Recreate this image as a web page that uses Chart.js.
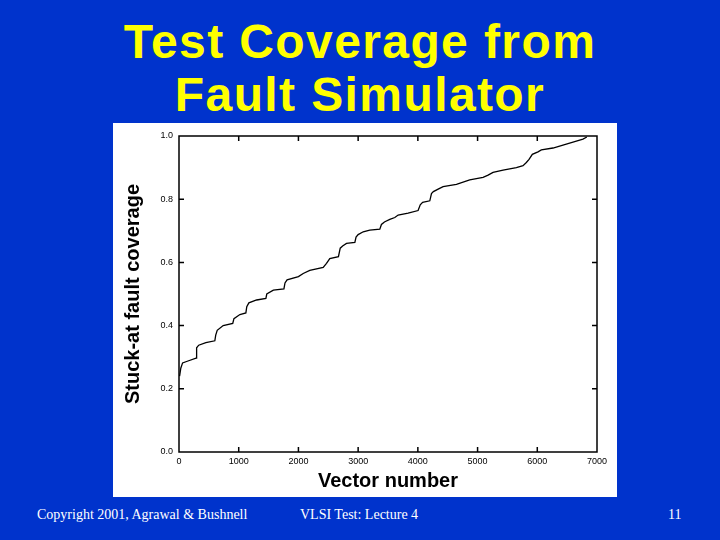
<!DOCTYPE html>
<html>
<head>
<meta charset="utf-8">
<script src="https://cdn.jsdelivr.net/npm/chart.js@4/dist/chart.umd.min.js"></script>
<style>
  html, body { margin: 0; padding: 0; }
  body { width: 720px; height: 540px; background: #0033cc; position: relative; overflow: hidden; }
  #title {
    position: absolute; left: 0; top: 15px; width: 720px; text-align: center;
    color: #ffff00; font: bold 48px "Liberation Sans", Arial, sans-serif;
    letter-spacing: 1.4px; line-height: 53px;
  }
  #panel { position: absolute; left: 113px; top: 123px; width: 504px; height: 374px; background: #fff; }
  .foot { position: absolute; top: 507px; color: #fff; font: 14px "Liberation Serif", "Times New Roman", serif; }
</style>
</head>
<body>
<div id="title">Test Coverage from<br>Fault Simulator</div>
<div id="panel"><canvas id="coverageChart" width="504" height="374"></canvas></div>
<div class="foot" style="left:37px">Copyright 2001, Agrawal &amp; Bushnell</div>
<div class="foot" style="left:300px">VLSI Test: Lecture 4</div>
<div class="foot" style="left:668px">11</div>

<script>
// vector number and cumulative fault coverage
const vectors = [10, 30, 60, 150, 285, 295, 330, 450, 600, 615, 640, 740, 900, 920, 1020, 1120, 1135, 1170,
  1300, 1455, 1470, 1580, 1757, 1775, 1810, 2000, 2080, 2190, 2415, 2470, 2525, 2670, 2700, 2740, 2805,
  2945, 2965, 3000, 3085, 3195, 3363, 3390, 3440, 3530, 3614, 3670, 3837, 4004, 4040, 4080, 4200, 4228,
  4260, 4340, 4423, 4646, 4869, 5092, 5176, 5259, 5427, 5650, 5761, 5817, 5862, 5917, 6012, 6068, 6263,
  6430, 6626, 6765, 6830];
const coverage = [0.240, 0.265, 0.282, 0.288, 0.297, 0.330, 0.338, 0.346, 0.352, 0.370, 0.385, 0.400, 0.407,
  0.422, 0.435, 0.440, 0.460, 0.472, 0.481, 0.486, 0.500, 0.512, 0.516, 0.535, 0.545, 0.555, 0.565, 0.575,
  0.584, 0.597, 0.612, 0.618, 0.645, 0.652, 0.660, 0.663, 0.680, 0.688, 0.697, 0.702, 0.705, 0.720, 0.728,
  0.736, 0.742, 0.750, 0.756, 0.764, 0.782, 0.790, 0.795, 0.818, 0.824, 0.832, 0.840, 0.847, 0.861, 0.869,
  0.876, 0.885, 0.892, 0.900, 0.906, 0.916, 0.926, 0.942, 0.950, 0.956, 0.962, 0.971, 0.982, 0.990, 0.997];
const xTicks = [0, 1000, 2000, 3000, 4000, 5000, 6000, 7000];
const yTicks = [0.0, 0.2, 0.4, 0.6, 0.8, 1.0];

// kotak plot + tick ke dalam di keempat sisi
const frameTicks = {
  id: 'frameTicks',
  afterDraw(chart) {
    const { ctx, chartArea: a, scales: { x, y } } = chart;
    ctx.save();
    ctx.strokeStyle = '#000';
    ctx.lineWidth = 1.5;
    ctx.strokeRect(a.left, a.top, a.right - a.left, a.bottom - a.top);
    ctx.beginPath();
    xTicks.slice(1, -1).forEach(v => {
      const px = x.getPixelForValue(v);
      ctx.moveTo(px, a.bottom); ctx.lineTo(px, a.bottom - 5);
      ctx.moveTo(px, a.top); ctx.lineTo(px, a.top + 5);
    });
    yTicks.slice(1, -1).forEach(v => {
      const py = y.getPixelForValue(v);
      ctx.moveTo(a.left, py); ctx.lineTo(a.left + 5, py);
      ctx.moveTo(a.right, py); ctx.lineTo(a.right - 5, py);
    });
    ctx.stroke();
    ctx.restore();
  }
};

const tickFont = { family: '"Liberation Sans", Arial, sans-serif', size: 9 };
const titleFont = { family: '"Liberation Sans", Arial, sans-serif', size: 20, weight: 'bold' };

new Chart(document.getElementById('coverageChart'), {
  type: 'line',
  data: {
    datasets: [{
      data: vectors.map((v, i) => ({ x: v, y: coverage[i] })),
      borderColor: '#000',
      borderWidth: 1.3,
      pointRadius: 0,
      tension: 0,
      fill: false
    }]
  },
  options: {
    responsive: false,
    animation: false,
    events: [],
    layout: { padding: { top: 13, right: 20, left: 0, bottom: 0 } },
    plugins: { legend: { display: false }, tooltip: { enabled: false } },
    scales: {
      x: {
        type: 'linear', min: 0, max: 7000,
        afterBuildTicks: s => { s.ticks = xTicks.map(v => ({ value: v })); },
        afterFit: s => { s.height = 45; },
        grid: { display: false, drawTicks: false, tickLength: 0 }, border: { display: false },
        ticks: { font: tickFont, color: '#000', maxRotation: 0, padding: 4, callback: v => String(v) },
        title: { display: true, text: 'Vector number', font: titleFont, color: '#000', padding: { top: 4 } }
      },
      y: {
        min: 0, max: 1,
        afterBuildTicks: s => { s.ticks = yTicks.map(v => ({ value: v })); },
        afterFit: s => { s.width = 66; },
        grid: { display: false, drawTicks: false, tickLength: 0 }, border: { display: false },
        ticks: { font: tickFont, color: '#000', padding: 6, callback: v => v.toFixed(1) },
        title: { display: true, text: 'Stuck-at fault coverage', font: titleFont, color: '#000', padding: { top: 8, bottom: 0 } }
      }
    }
  },
  plugins: [frameTicks]
});
</script>
</body>
</html>
